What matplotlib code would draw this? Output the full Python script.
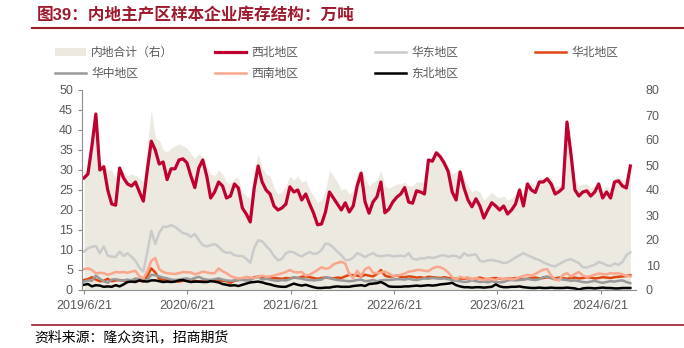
import pandas as pd
import matplotlib
matplotlib.use("Agg")
import matplotlib.pyplot as plt
from matplotlib.patches import Patch
from matplotlib.lines import Line2D

plt.rcParams['font.family'] = ['Liberation Sans', 'Noto Sans CJK SC', 'DejaVu Sans']

# 数据（万吨），双周取样，起始 2019/6/21
start_date = '2019-06-21'

total = [48, 48, 57.6, 70.4, 51.2, 50.4, 48, 48, 44.8, 49.6,
         47.2, 45.6, 46.4, 45.6, 44.8, 43.2, 57.6, 72, 60.8, 60,
         56, 55.2, 56.8, 57.6, 58.4, 57.6, 56.8, 54.4, 52.8, 54.4,
         53.6, 49.6, 46.4, 45.6, 48, 46.4, 43.2, 42.4, 44.8, 44.8,
         39.2, 37.6, 36.8, 48, 54.4, 48.8, 46.4, 45.6, 40.8, 38.4,
         39.2, 41.6, 45.6, 44, 45.6, 43.2, 44, 40, 37.6, 35.2,
         36, 40, 48, 45.6, 43.2, 40, 40.8, 38.4, 40, 46.4,
         48.8, 44.8, 41.6, 43.2, 44, 48, 41.6, 40.8, 41.6, 42.4,
         42.4, 43.2, 41.6, 41.6, 43.2, 43.2, 43.2, 52.8, 52.8, 56,
         54.4, 52, 49.6, 46.4, 47.2, 48.8, 44.8, 41.6, 39.2, 40,
         39.2, 36, 37.6, 39.2, 37.6, 36.8, 37.6, 36, 36.8, 38.4,
         41.6, 38.4, 44, 42.4, 41.6, 44.8, 44.8, 45.6, 44.8, 41.6,
         41.6, 43.2, 66.4, 56, 44, 41.6, 42.4, 42.4, 40.8, 41.6,
         44, 40, 41.6, 40, 44.8, 45.6, 44, 43.2, 48.8]

northwest = [28, 29, 36, 44, 30, 30.8, 25, 21.5, 21.2, 30.5,
             28, 26.5, 26, 27, 24.5, 22.2, 30, 37.2, 35, 31.5,
             32, 27.6, 30.3, 30.3, 32.5, 32.8, 31.8, 28.5, 25.6, 30.5,
             32.5, 28.5, 23, 24.5, 27, 26, 23, 23.5, 26.5, 25.5,
             20.5, 19, 17, 25.5, 31, 27, 25, 24, 21, 20,
             20.5, 21.5, 25.8, 24.5, 25, 22.5, 24, 21.5, 19.2, 16.3,
             16.5, 19.5, 24.5, 23, 21.5, 20, 21.8, 19.5, 21, 26,
             29.2, 22, 19.2, 22, 23.3, 27, 19.3, 20.2, 22, 23.2,
             24, 25.6, 22, 21.7, 24.8, 24.5, 24, 32.5, 32.2, 34.3,
             33.3, 31.7, 29.6, 24.5, 22.5, 29.5, 25.5, 22.5, 20.8, 22.8,
             21, 18, 20, 21.8, 21, 20, 21, 19, 20, 21.5,
             25, 21, 26.5, 25, 24.4, 27, 27, 27.8, 26.5, 24,
             24.6, 25.5, 42, 34, 25, 23.5, 24.5, 24.8, 23.5, 24.5,
             26.5, 23, 24.5, 23, 27, 27.3, 26, 25.5, 31]

east = [9.6, 10.4, 10.8, 11, 9.2, 10.9, 8.6, 8.3, 8.3, 9.6,
        8.5, 9.2, 8.3, 7.3, 5.6, 4.6, 9.5, 14.8, 11.5, 14.3,
        15.8, 15.8, 16.2, 15.8, 15, 14.2, 14, 13.3, 14, 12.5,
        11.2, 10.9, 11.2, 11.5, 10.8, 9.8, 9.3, 9.4, 8.7, 8.5,
        8.5, 7.8, 6.8, 10.5, 12.4, 12.2, 11, 10, 8.5, 7.4,
        7.8, 9.2, 9.6, 9.4, 8.8, 8.4, 9, 9.5, 9, 9.2,
        10, 11.6, 11.4, 10.6, 9.6, 8.7, 7.5, 7.5, 8.1, 9.2,
        8.8, 8.2, 8.8, 9.2, 8.6, 8.4, 8.6, 8.7, 8.4, 8.5,
        8.6, 8.4, 9.2, 7.8, 7.6, 7.9, 7.9, 8.2, 8, 8.2,
        8.6, 8.7, 8.3, 8.6, 8.5, 8, 9.2, 8.6, 8.8, 8.9,
        7.3, 7.1, 7.4, 7.5, 7.3, 7.1, 6.7, 6.9, 7.5, 8.1,
        8.7, 9.2, 8.7, 8.3, 7.8, 7.5, 6.9, 6.5, 6.1, 5.9,
        6.5, 7, 7.5, 7.7, 7.2, 6.7, 5.7, 5.6, 6, 6.3,
        7, 6.7, 6.2, 6, 6.6, 6.3, 7, 8.7, 9.4]

north = [2.5, 2.7, 3.2, 2.6, 2.2, 2.3, 2.8, 2.2, 2.4, 2.5,
         2.3, 2.1, 2.3, 2.5, 2.3, 2.1, 3.5, 5.4, 4.4, 2.8,
         2.5, 2.5, 2.3, 2.2, 2.1, 2.3, 2.4, 2.5, 2.3, 2.1,
         2.2, 2.4, 2.3, 2.5, 2.4, 2.3, 2.2, 1.8, 2.3, 2.5,
         2.6, 2.5, 2.6, 3.2, 3.3, 3.2, 3.0, 2.9, 3.0, 2.9,
         2.8, 3.0, 2.9, 3.1, 3.0, 3.3, 3.4, 3.2, 3.0, 2.8,
         3.0, 3.1, 3.0, 2.9, 3.1, 3.0, 3.4, 3.8, 3.7, 3.6,
         3.4, 3.8, 3.6, 3.4, 4.0, 5.0, 3.6, 3.3, 3.4, 3.6,
         3.3, 3.2, 3.4, 3.3, 3.1, 3.2, 3.0, 3.3, 3.2, 3.1,
         3.0, 3.2, 3.0, 2.9, 2.8, 2.9, 2.8, 3.0, 2.7, 2.9,
         3.1, 2.8, 2.7, 2.9, 3.0, 2.8, 2.7, 2.9, 2.8, 3.0,
         2.9, 2.7, 2.8, 3.0, 3.1, 2.9, 3.0, 3.2, 3.0, 2.9,
         3.1, 3.0, 2.8, 3.0, 3.1, 2.9, 3.0, 3.2, 3.1, 2.9,
         3.0, 3.2, 3.1, 3.0, 3.2, 3.3, 3.4, 3.5, 3.7]

central = [2.1, 2.4, 2.3, 3.6, 2.8, 2.2, 1.8, 2.6, 2.7, 2.4,
           2.4, 2.6, 2.4, 2.9, 2.7, 2.4, 2.5, 3.8, 3.7, 3.4,
           3.1, 2.9, 2.6, 2.5, 2.6, 2.8, 2.9, 2.6, 3.0, 3.3,
           2.8, 2.6, 2.5, 2.7, 2.9, 2.6, 2.4, 2.3, 2.4, 2.5,
           2.5, 2.4, 2.5, 3.0, 3.3, 2.6, 2.8, 2.6, 2.4, 2.3,
           2.5, 2.4, 2.7, 3.2, 3.0, 2.8, 2.6, 2.5, 2.4, 2.5,
           2.6, 3.2, 3.0, 2.7, 2.5, 2.4, 2.3, 2.2, 2.3, 2.5,
           2.6, 2.2, 2.3, 2.5, 2.2, 2.4, 2.5, 2.5, 2.6, 2.7,
           2.7, 2.6, 2.8, 2.6, 2.5, 2.7, 2.9, 2.8, 3.0, 2.9,
           2.8, 2.9, 2.7, 2.5, 2.3, 2.2, 2.0, 2.1, 2.4, 2.2,
           2.0, 2.1, 1.9, 2.2, 2.0, 1.9, 2.0, 2.4, 2.5, 2.4,
           2.5, 2.6, 2.8, 2.6, 2.5, 2.7, 3.2, 3.4, 3.0, 2.6,
           2.8, 2.6, 2.5, 2.3, 2.4, 2.2, 2.0, 1.9, 2.1, 2.3,
           2.0, 1.8, 2.0, 2.2, 2.1, 2.3, 2.4, 2.0, 1.7]

southwest = [5.2, 5.4, 5.0, 4.2, 4.3, 4.2, 3.8, 4.1, 4.5, 4.4,
             4.5, 4.3, 4.6, 4.8, 3.4, 2.9, 4.6, 7.3, 8.0, 5.2,
             4.5, 4.2, 4.1, 4.0, 4.2, 4.5, 4.4, 4.4, 3.9, 4.2,
             4.6, 4.4, 4.2, 4.2, 5.4, 4.7, 4.2, 3.5, 3.1, 2.9,
             3.0, 3.3, 3.1, 3.0, 3.3, 3.6, 3.3, 3.4, 3.6, 3.9,
             4.2, 4.5, 5.0, 4.5, 4.4, 4.5, 3.6, 3.8, 4.4, 5.0,
             5.7, 5.3, 5.5, 6.4, 6.8, 7.1, 6.6, 4.0, 3.0, 4.8,
             3.5, 5.2, 5.7, 4.3, 4.2, 4.4, 4.6, 4.1, 3.5, 3.6,
             3.8, 4.1, 4.6, 4.7, 5.0, 5.0, 4.8, 4.7, 5.4, 5.8,
             5.7, 5.2, 4.4, 3.2, 2.6, 3.3, 3.0, 3.2, 2.6, 3.0,
             2.7, 2.5, 2.9, 2.7, 2.5, 3.0, 2.6, 2.9, 2.6, 2.8,
             3.2, 3.5, 3.8, 3.6, 4.0, 4.6, 5.1, 5.2, 3.6, 2.6,
             2.4, 3.8, 4.2, 3.4, 4.0, 4.5, 3.6, 3.3, 3.5, 3.8,
             4.1, 4.0, 3.9, 4.2, 4.1, 4.2, 3.9, 3.5, 3.4]

northeast = [1.3, 1.5, 0.9, 1.2, 1.1, 0.8, 0.9, 0.8, 1.2, 0.9,
             1.4, 2.0, 2.1, 2.0, 2.4, 2.2, 2.1, 2.4, 2.4, 2.2,
             2.0, 2.1, 2.0, 2.1, 2.4, 2.5, 2.2, 2.0, 2.1, 2.1,
             2.0, 2.0, 2.2, 2.1, 1.9, 1.5, 1.3, 1.1, 1.2, 1.0,
             1.3, 1.6, 1.9, 2.0, 2.1, 1.9, 1.6, 1.4, 1.1, 0.9,
             0.8, 0.8, 1.2, 1.6, 1.3, 1.1, 1.3, 1.0, 0.7, 0.5,
             0.5, 0.6, 0.6, 0.8, 0.9, 0.8, 0.8, 0.8, 1.0, 1.1,
             1.2, 1.0, 1.5, 1.6, 1.7, 2.0, 1.5, 0.9, 0.8, 0.8,
             0.8, 0.9, 0.9, 1.0, 1.1, 1.0, 1.1, 1.2, 1.1, 1.2,
             1.4, 1.5, 1.6, 1.8, 1.2, 0.9, 0.7, 0.7, 0.6, 0.7,
             0.7, 0.6, 0.7, 0.8, 1.4, 0.9, 0.7, 0.7, 0.8, 0.8,
             0.9, 0.7, 0.6, 0.5, 0.5, 0.6, 0.5, 0.5, 0.6, 0.5,
             0.5, 0.5, 0.6, 0.5, 0.4, 0.1, 0.4, 0.5, 0.5, 0.4,
             0.5, 0.6, 0.5, 0.5, 0.4, 0.4, 0.5, 0.5, 0.5]

tick_dates = ['2019-06-21', '2020-06-21', '2021-06-21', '2022-06-21', '2023-06-21', '2024-06-21']
tick_labels = ['2019/6/21', '2020/6/21', '2021/6/21', '2022/6/21', '2023/6/21', '2024/6/21']

title = '图39：内地主产区样本企业库存结构：万吨'
source = '资料来源：隆众资讯，招商期货'

dates = pd.date_range(start_date, periods=len(northwest), freq='14D')

W, H = 684, 348
dark_red = '#9E1B2E'
grey_txt = '#595959'

fig = plt.figure(figsize=(W / 100, H / 100), dpi=100)
ax = fig.add_axes([82 / W, 58 / H, (636 - 82) / W, 200 / H])
ax2 = ax.twinx()

# 面积（右轴）
ax2.fill_between(dates, total, 0, color='#ECE9E0', lw=0)
ax2.set_ylim(0, 80)
ax2.set_yticks(range(0, 81, 10))
ax.set_zorder(ax2.get_zorder() + 1)
ax.patch.set_visible(False)

series = [
    ('西北地区', northwest, '#C0002F', 2.3),
    ('华东地区', east, '#CBCBCB', 1.8),
    ('华北地区', north, '#E0470E', 1.8),
    ('华中地区', central, '#999999', 1.8),
    ('西南地区', southwest, '#F9A68C', 1.8),
    ('东北地区', northeast, '#000000', 1.8),
]
handles = {}
for name, vals, col, lw in series:
    h, = ax.plot(dates, vals, color=col, lw=lw, solid_joinstyle='round')
    handles[name] = h
handles['内地合计（右）'] = Patch(facecolor='#ECE9E0', edgecolor='none')

ax.set_ylim(0, 50)
ax.set_yticks(range(0, 51, 5))
ax.set_xlim(pd.Timestamp('2019-06-14'), pd.Timestamp('2024-10-24'))
ax.set_xticks(pd.to_datetime(tick_dates))
ax.set_xticklabels(tick_labels)

for s in ['top', 'right']:
    ax.spines[s].set_visible(False)
for s in ax2.spines.values():
    s.set_visible(False)
for s in ['left', 'bottom']:
    ax.spines[s].set_color('#8C8C8C')
    ax.spines[s].set_linewidth(0.8)

ax.tick_params(axis='both', colors='#8C8C8C', labelcolor=grey_txt, labelsize=9, length=3, width=0.8)
ax.tick_params(axis='x', pad=4)
ax2.tick_params(axis='y', length=0, labelcolor=grey_txt, labelsize=9, pad=7)

# 图例：四列
cols = [['内地合计（右）', '华中地区'], ['西北地区', '西南地区'], ['华东地区', '东北地区'], ['华北地区']]
for k, names in enumerate(cols):
    leg = fig.legend([handles[n] for n in names], names, loc='upper left',
                     bbox_to_anchor=((55 + 160 * k) / W, 1 - 47 / H),
                     frameon=False, fontsize=8.5, labelcolor=grey_txt,
                     handlelength=2.6, handletextpad=0.45, labelspacing=0.78,
                     borderpad=0, borderaxespad=0)

# 标题与来源
fig.text(37 / W, 1 - 15 / H, title, fontsize=12, fontweight='bold', color=dark_red, va='center')
fig.add_artist(Line2D([32 / W, 1], [1 - 28 / H] * 2, color=dark_red, lw=1.5))
fig.add_artist(Line2D([32 / W, 1], [1 - 325 / H] * 2, color=dark_red, lw=1.2))
fig.text(34 / W, 1 - 337 / H, source, fontsize=10, color='black', va='center')

fig.savefig('out.png', dpi=100)
